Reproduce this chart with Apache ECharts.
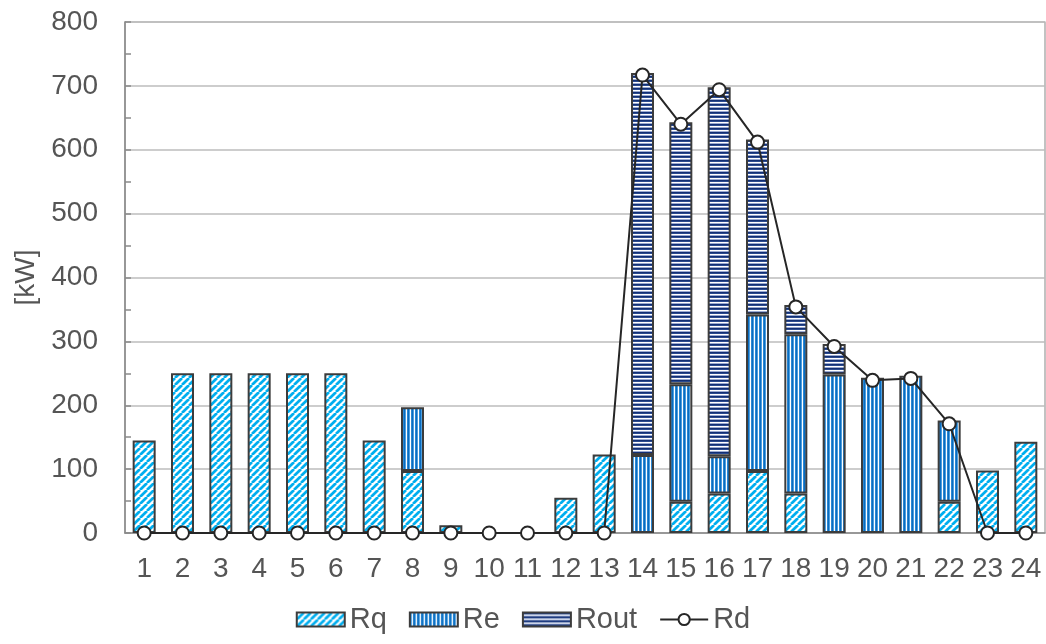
<!DOCTYPE html>
<html>
<head>
<meta charset="utf-8">
<style>
  html, body { margin: 0; padding: 0; background: #ffffff; }
  #chart { width: 1046px; height: 644px; }
</style>
<script src="https://cdn.jsdelivr.net/npm/echarts@6/dist/echarts.min.js"></script>
</head>
<body>
<div id="chart"></div>
<script>
// Hours of the day
const hours = ['1','2','3','4','5','6','7','8','9','10','11','12','13','14','15','16','17','18','19','20','21','22','23','24'];
// Stacked components [kW]
const rq   = [145, 250, 250, 250, 250, 250, 145, 97, 12, 0, 0, 55, 123, 0, 49, 62, 97, 62, 0, 0, 0, 49, 98, 143];
const re   = [0, 0, 0, 0, 0, 0, 0, 100, 0, 0, 0, 0, 0, 122, 184, 58, 245, 249, 248, 243, 246, 127, 0, 0];
const rout = [0, 0, 0, 0, 0, 0, 0, 0, 0, 0, 0, 0, 0, 598, 410, 578, 274, 46, 48, 0, 0, 0, 0, 0];
// Demand line [kW]
const rd   = [0, 0, 0, 0, 0, 0, 0, 0, 0, 0, 0, 0, 0, 717, 640, 694, 612, 354, 292, 239, 242, 171, 0, 0];
// Value axis ticks
const yMin = 0, yMax = 800, yStep = 100;

// Small repeating tiles used as bar fills
function tile(w, h, draw) {
  const c = document.createElement('canvas');
  c.width = w; c.height = h;
  const ctx = c.getContext('2d');
  ctx.fillStyle = '#ffffff';
  ctx.fillRect(0, 0, w, h);
  draw(ctx);
  return { image: c, repeat: 'repeat' };
}
// light-blue upward diagonal stripes
const diagFill = tile(7, 7, ctx => {
  ctx.strokeStyle = '#00aeef';
  ctx.lineWidth = 2.7;
  for (const o of [-7, 0, 7]) {
    ctx.beginPath();
    ctx.moveTo(o, 7);
    ctx.lineTo(o + 7, 0);
    ctx.stroke();
  }
});
// blue vertical stripes
const vertFill = tile(4, 4, ctx => {
  ctx.fillStyle = '#0a6cbf'; ctx.fillRect(0, 0, 1, 4);
  ctx.fillStyle = '#4d9fe0'; ctx.fillRect(1, 0, 1, 4);
  ctx.fillStyle = '#2a86d2'; ctx.fillRect(3, 0, 1, 4);
});
// navy horizontal stripes
const horizFill = tile(4, 4, ctx => {
  ctx.fillStyle = '#122f73'; ctx.fillRect(0, 0, 4, 1);
  ctx.fillStyle = '#2a4a90'; ctx.fillRect(0, 1, 4, 1);
  ctx.fillStyle = '#9aaad2'; ctx.fillRect(0, 3, 4, 1);
});

const border = '#3c3c3c';
const textColor = '#555555';
const font = "'Liberation Sans', Arial, sans-serif";
const blankZero = arr => arr.map(v => (v === 0 ? '-' : v));

function barSeries(name, data, fill) {
  return {
    name: name,
    type: 'bar',
    stack: 'r',
    data: blankZero(data),
    barWidth: '60%',
    itemStyle: { color: fill, borderColor: border, borderWidth: 2 },
    emphasis: { disabled: true }
  };
}

const chart = echarts.init(document.getElementById('chart'), null, { renderer: 'canvas' });
chart.setOption({
  animation: false,
  grid: {
    left: 125, right: 1, top: 22, bottom: 111,
    show: true, borderColor: '#9a9a9a', borderWidth: 1.2, backgroundColor: 'transparent'
  },
  legend: {
    bottom: 5,
    left: 'center',
    itemWidth: 48,
    itemHeight: 14,
    itemGap: 22,
    textStyle: { color: textColor, fontSize: 29, fontFamily: font },
    data: [
      { name: 'Rq', icon: 'rect' },
      { name: 'Re', icon: 'rect' },
      { name: 'Rout', icon: 'rect' },
      { name: 'Rd' }
    ]
  },
  xAxis: {
    type: 'category',
    data: hours,
    axisTick: { show: false },
    axisLine: { lineStyle: { color: '#8a8a8a', width: 1.5 } },
    axisLabel: { color: textColor, fontSize: 28, fontFamily: font, margin: 22, interval: 0 }
  },
  yAxis: {
    type: 'value',
    min: yMin, max: yMax, interval: yStep,
    name: '[kW]',
    nameLocation: 'middle',
    nameRotate: 90,
    nameGap: 85,
    nameTextStyle: { color: textColor, fontSize: 28, fontFamily: font },
    axisLine: { show: true, lineStyle: { color: '#8a8a8a', width: 1.5 } },
    axisTick: { show: true, inside: true, length: 6, lineStyle: { color: '#8a8a8a', width: 1.5 } },
    minorTick: { show: true, splitNumber: 2, length: 6, lineStyle: { color: '#8a8a8a', width: 1.5 } },
    axisLabel: { color: textColor, fontSize: 28, fontFamily: font, margin: 27 },
    splitLine: { lineStyle: { color: '#bdbdbd', width: 1.5 } }
  },
  series: [
    barSeries('Rq', rq, diagFill),
    barSeries('Re', re, vertFill),
    barSeries('Rout', rout, horizFill),
    {
      name: 'Rd',
      type: 'line',
      data: rd,
      z: 5,
      symbol: 'circle',
      symbolSize: 13,
      showAllSymbol: true,
      lineStyle: { color: '#262626', width: 2 },
      itemStyle: { color: '#ffffff', borderColor: '#262626', borderWidth: 2 },
      emphasis: { disabled: true }
    }
  ]
});
</script>
</body>
</html>
